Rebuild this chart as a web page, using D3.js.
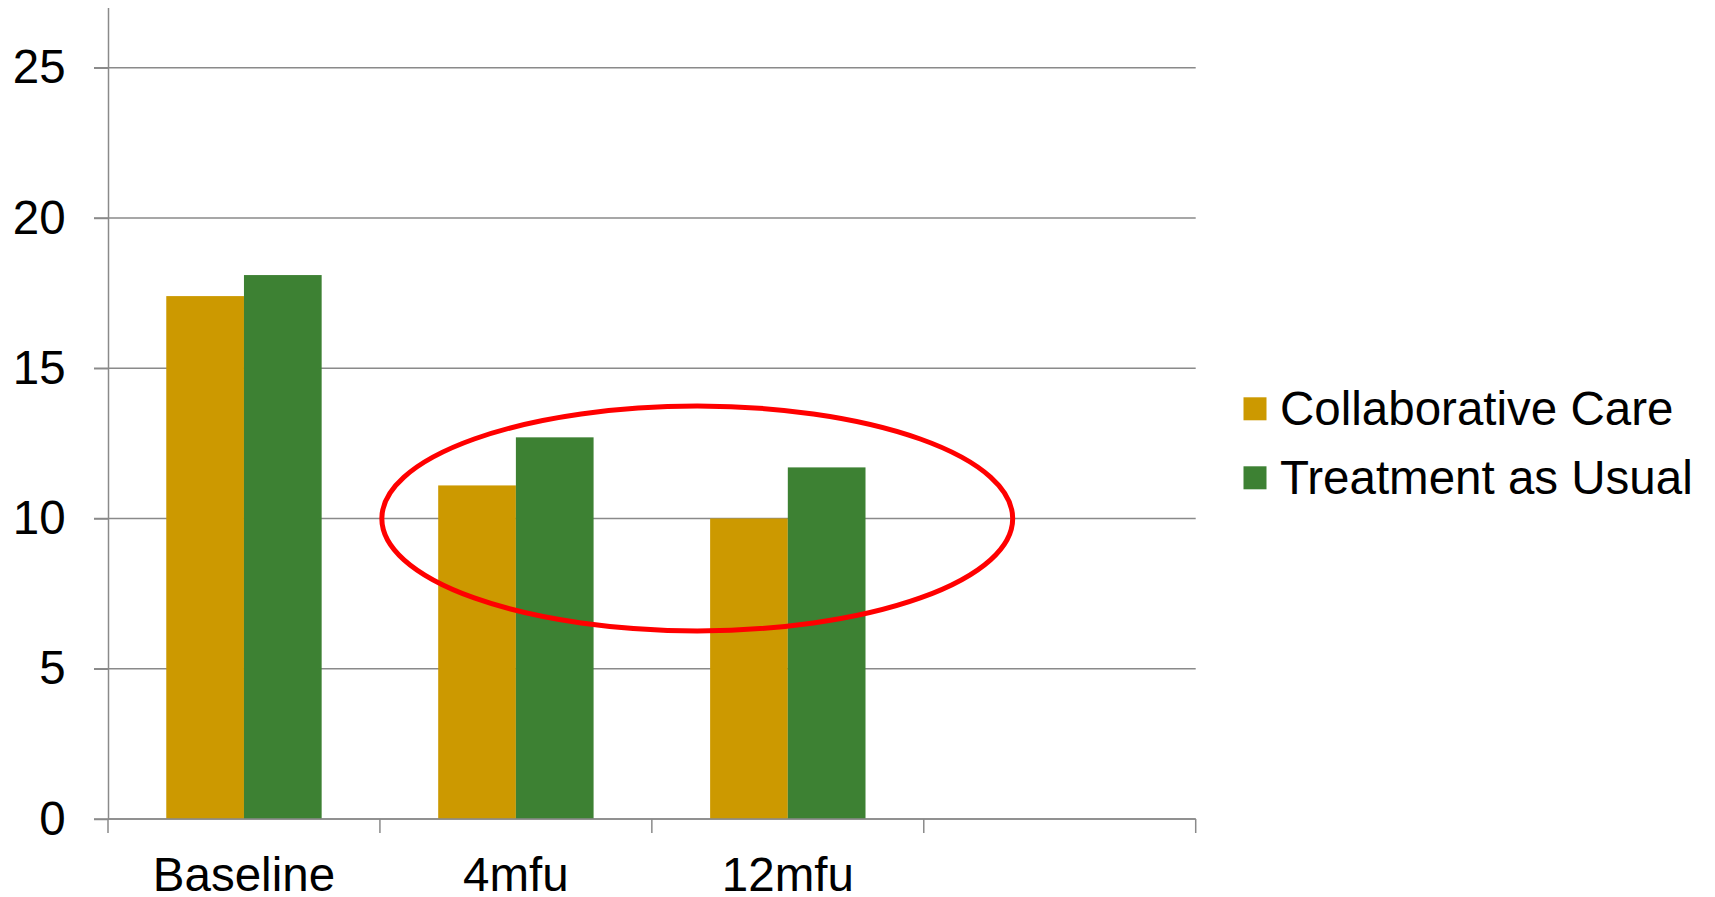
<!DOCTYPE html>
<html>
<head>
<meta charset="utf-8">
<script src="https://cdn.jsdelivr.net/npm/d3@7"></script>
<style>
  html, body { margin: 0; padding: 0; background: #fff; }
  svg { display: block; font-family: "Liberation Sans", Arial, sans-serif; }
</style>
</head>
<body>
<svg id="chart" width="1715" height="897"></svg>
<script>
// Mean scores by time point
const categories = ["Baseline", "4mfu", "12mfu"];
const seriesNames = ["Collaborative Care", "Treatment as Usual"];
const collaborativeCare = [17.4, 11.1, 10.0];
const treatmentAsUsual = [18.1, 12.7, 11.7];
const yTicks = [0, 5, 10, 15, 20, 25];
const yMax = 27;

const seriesValues = [collaborativeCare, treatmentAsUsual];
const colors = ["#CC9900", "#3D8133"];
const gridColor = "#8A8A8A";
const fontSize = 47.5;

const svg = d3.select("#chart");
const plotLeft = 108, plotRight = 1195.7, plotTop = 7.6, plotBottom = 819;

// The category axis keeps one extra empty slot at the right end
const slots = categories.concat([" "]);
const x = d3.scaleBand().domain(slots).range([plotLeft, plotRight]).padding(0);
const xInner = d3.scaleBand().domain(seriesNames).range([0, x.bandwidth()])
  .paddingInner(0).paddingOuter(0.75);
const y = d3.scaleLinear().domain([0, yMax]).range([plotBottom, plotTop]);

// Horizontal gridlines
svg.append("g").selectAll("line").data(yTicks).join("line")
  .attr("x1", plotLeft - 14).attr("x2", plotRight)
  .attr("y1", d => y(d)).attr("y2", d => y(d))
  .attr("stroke", gridColor).attr("stroke-width", 1.5);

// Bars
const rows = categories.map((c, i) => ({ cat: c, vals: seriesValues.map(s => s[i]) }));
const groups = svg.append("g").selectAll("g").data(rows).join("g")
  .attr("transform", d => `translate(${x(d.cat)},0)`);
groups.selectAll("rect")
  .data(d => d.vals.map((v, k) => ({ name: seriesNames[k], v, k })))
  .join("rect")
  .attr("x", d => xInner(d.name))
  .attr("width", xInner.bandwidth())
  .attr("y", d => y(d.v))
  .attr("height", d => y(0) - y(d.v))
  .attr("fill", d => colors[d.k]);

// Y axis with ticks pointing left
const yAxis = d3.axisLeft(y).tickValues(yTicks).tickSize(14).tickSizeOuter(0).tickPadding(28.4);
const gy = svg.append("g").attr("transform", `translate(${plotLeft},0)`).call(yAxis);
gy.select(".domain").attr("stroke", gridColor).attr("stroke-width", 1.5);
gy.selectAll(".tick line").attr("stroke", gridColor).attr("stroke-width", 1.5);
gy.selectAll(".tick text").attr("font-size", fontSize).attr("fill", "#000")
  .attr("font-family", "'Liberation Sans', Arial, sans-serif");

// X axis: baseline, boundary ticks and centred labels
const gx = svg.append("g");
gx.append("line").attr("x1", plotLeft).attr("x2", plotRight).attr("y1", y(0)).attr("y2", y(0))
  .attr("stroke", gridColor).attr("stroke-width", 1.5);
const bounds = slots.map(s => x(s)).concat([plotRight]);
gx.selectAll(".bt").data(bounds).join("line").attr("class", "bt")
  .attr("x1", d => d).attr("x2", d => d)
  .attr("y1", y(0)).attr("y2", y(0) + 14)
  .attr("stroke", gridColor).attr("stroke-width", 1.5);
gx.selectAll("text").data(categories).join("text")
  .attr("x", d => x(d) + x.bandwidth() / 2)
  .attr("y", y(0) + 72)
  .attr("text-anchor", "middle")
  .attr("font-size", fontSize).attr("fill", "#000")
  .text(d => d);

// Highlight ellipse around the follow-up results
const slotIndex = d3.scaleLinear().domain([0, slots.length]).range([plotLeft, plotRight]);
const ring = { cx: 2.167, cy: 10, rx: 1.16, ry: 3.74 };
svg.append("ellipse")
  .attr("cx", slotIndex(ring.cx))
  .attr("cy", y(ring.cy))
  .attr("rx", slotIndex(ring.rx) - slotIndex(0))
  .attr("ry", y(0) - y(ring.ry))
  .attr("fill", "none").attr("stroke", "#FF0000").attr("stroke-width", 5);

// Legend
const legend = svg.append("g").selectAll("g").data(seriesNames).join("g")
  .attr("transform", (d, i) => `translate(1243.5,${397.3 + i * 69})`);
legend.append("rect").attr("width", 23).attr("height", 23)
  .attr("fill", (d, i) => colors[i]);
legend.append("text").attr("x", 36.5).attr("y", 27.7)
  .attr("font-size", fontSize).attr("fill", "#000")
  .text(d => d);
</script>
</body>
</html>
